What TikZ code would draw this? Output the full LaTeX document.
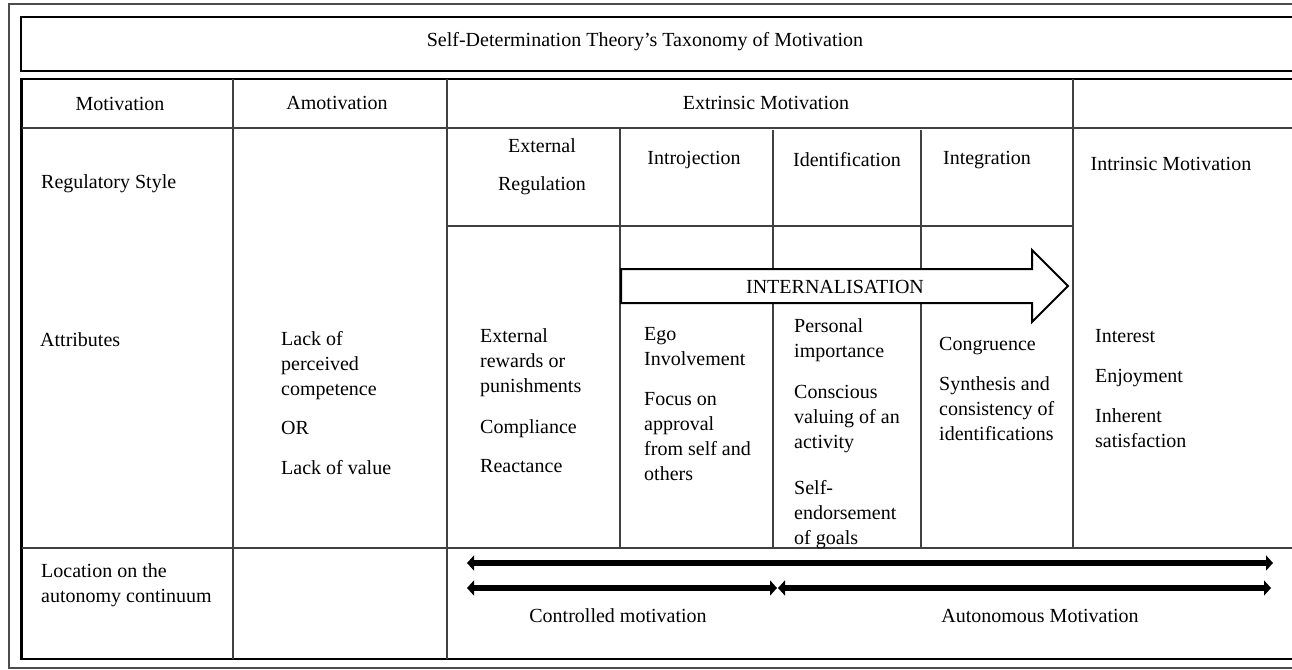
\documentclass[tikz,border=0pt]{standalone}
\usepackage{fontspec}
\setmainfont{Liberation Serif}
\usetikzlibrary{arrows.meta}
\begin{document}
\begin{tikzpicture}[x=1pt,y=-1pt,
  txt/.style={font=\fontsize{20}{25}\selectfont, inner sep=0pt, align=left, anchor=west},
  ctxt/.style={font=\fontsize{20}{25}\selectfont, inner sep=0pt, align=center},
  frameline/.style={line width=2pt, draw=black!70},
  boldline/.style={line width=2.2pt, draw=black},
  thinline/.style={line width=1.1pt, draw=black!75},
  bigarrow/.style={line width=6.5pt, arrows={Triangle[length=7pt,width=15pt]-Triangle[length=7pt,width=15pt]}},
  internal/.style={line width=2pt, draw=black, fill=white, line join=miter}]
\path[use as bounding box, clip] (0,0) rectangle (1292,669);
\fill[white] (0,0) rectangle (1292,669);
% outer frame
\draw[frameline] (9,4) rectangle (1320,668);
% title box
\draw[boldline] (21,17) rectangle (1320,71);
\node[ctxt] (title) at (645,42) {Self-Determination Theory’s Taxonomy of Motivation};
% table border
\draw[boldline] (21.5,79) rectangle (1320,659);
% horizontal inner lines
\draw[thinline] (21.5,128) -- (1320,128);
\draw[thinline] (447,226) -- (1073,226);
\draw[thinline] (21.5,548) -- (1320,548);
% vertical inner lines
\draw[thinline] (233,79) -- (233,659);
\draw[thinline] (447,79) -- (447,659);
\draw[thinline] (1073,79) -- (1073,548);
\draw[thinline] (620,128) -- (620,548);
\draw[thinline] (773,130) -- (773,548);
\draw[thinline] (921,130) -- (921,548);
% header row
\node[ctxt] (mot) at (120,104) {Motivation};
\node[ctxt] (amot) at (337,103) {Amotivation};
\node[ctxt] (extr) at (766,103) {Extrinsic Motivation};
% regulatory style row
\node[txt] (reg) at (41,184) {Regulatory Style};
\node[ctxt] (extreg) at (542,167) {External\\[13pt]Regulation};
\node[ctxt] (intro) at (694,160) {Introjection};
\node[ctxt] (ident) at (847,160) {Identification};
\node[ctxt] (integ) at (987,160) {Integration};
\node[ctxt] (intrin) at (1171,164) {Intrinsic Motivation};
% internalisation arrow
\draw[internal] (621,269) -- (1032,269) -- (1032,250) -- (1068,286) -- (1032,322) -- (1032,303) -- (621,303) -- cycle;
\node[ctxt] (intlab) at (835,287) {INTERNALISATION};
% attributes row
\node[txt] (attr) at (40,340) {Attributes};
\node[txt] (amotattr) at (281,403.5) {Lack of\\perceived\\competence\\[14pt]OR\\[15pt]Lack of value};
\node[txt] (extattr) at (480,400.5) {External\\rewards or\\punishments\\[16pt]Compliance\\[14pt]Reactance};
\node[txt] (introattr) at (644,404) {Ego\\Involvement\\[15pt]Focus on\\approval\\from self and\\others};
\node[txt] (identattr) at (794,434) {Personal\\importance\\[16pt]Conscious\\valuing of an\\activity\\[21pt]Self-\\endorsement\\of goals};
\node[txt] (integattr) at (939,389) {Congruence\\[15pt]Synthesis and\\consistency of\\identifications};
\node[txt] (intrinattr) at (1095,388.5) {Interest\\[15pt]Enjoyment\\[15pt]Inherent\\satisfaction};
% location row
\node[txt] (loc) at (41,585) {Location on the\\autonomy continuum};
\coordinate (a1) at (467,563);
\coordinate (a2) at (1273,563);
\coordinate (b1) at (467,588);
\coordinate (bm1) at (777,588);
\coordinate (bm2) at (778,588);
\coordinate (b2) at (1271,588);
\draw[bigarrow] (a1) -- (a2);
\draw[bigarrow] (b1) -- (bm1);
\draw[bigarrow] (bm2) -- (b2);
\node[ctxt] (ctrl) at (618,616) {Controlled motivation};
\node[ctxt] (auto) at (1040,616) {Autonomous Motivation};
\end{tikzpicture}
\end{document}
